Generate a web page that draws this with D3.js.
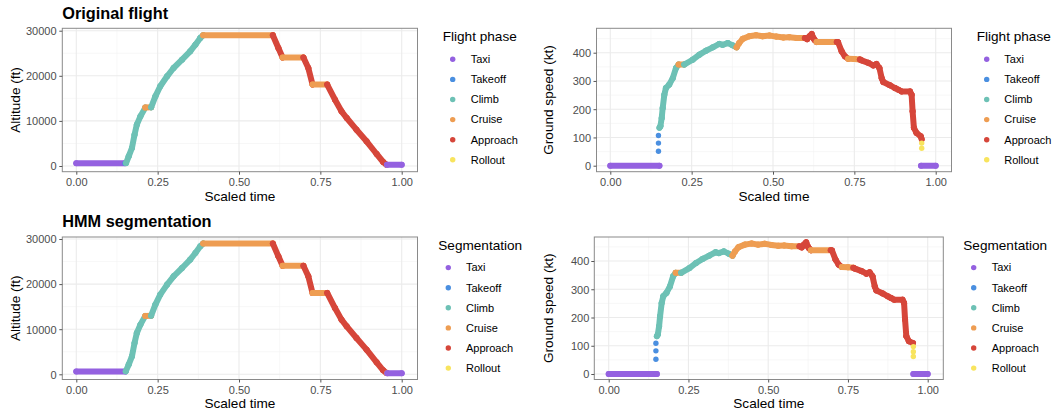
<!DOCTYPE html>
<html>
<head>
<meta charset="utf-8">
<script src="https://cdn.jsdelivr.net/npm/d3@7"></script>
<style>
  html, body { margin: 0; padding: 0; background: #fff; }
  svg { display: block; font-family: "Liberation Sans", Arial, Helvetica, sans-serif; }
</style>
</head>
<body>
<svg id="chart" width="1063" height="413"></svg>
<script>
// ---------------- DATA ----------------
const phases = ["Taxi", "Takeoff", "Climb", "Cruise", "Approach", "Rollout"];
const phaseColors = ["#9461E0", "#4A8FE0", "#6DC1B5", "#EE9D52", "#D6463A", "#F8E45E"];
const dotOnlyPhases = [1, 5];

const xTicks = [0, 0.25, 0.5, 0.75, 1];
const xTickLabels = ["0.00", "0.25", "0.50", "0.75", "1.00"];
const altTicks = [0, 10000, 20000, 30000];
const speedTicks = [0, 100, 200, 300, 400];

// [scaled time, altitude (ft), phase index] — original flight
const altitudeFlight = [
  [0.000, 600, 0], [0.150, 600, 0],
  [0.150, 600, 1], [0.151, 620, 1], [0.152, 650, 1],
  [0.153, 650, 2], [0.161, 2150, 2], [0.171, 3990, 2], [0.179, 6950, 2], [0.186, 9160, 2],
  [0.197, 11010, 2], [0.212, 12950, 2],
  [0.212, 12950, 3], [0.230, 13000, 3],
  [0.230, 13000, 2], [0.243, 15450, 2], [0.258, 17670, 2], [0.279, 19890, 2], [0.299, 21730, 2],
  [0.325, 23570, 2], [0.350, 25430, 2], [0.366, 26900, 2], [0.381, 28380, 2], [0.390, 29000, 2],
  [0.390, 29000, 3], [0.604, 29000, 3],
  [0.604, 29000, 4], [0.621, 26160, 4], [0.634, 24050, 4],
  [0.634, 24050, 3], [0.698, 24050, 3],
  [0.698, 24050, 4], [0.713, 21730, 4], [0.726, 18050, 4],
  [0.726, 18050, 3], [0.771, 18050, 3],
  [0.771, 18050, 4], [0.795, 14700, 4], [0.815, 12120, 4], [0.831, 10640, 4], [0.861, 8050, 4],
  [0.892, 5470, 4], [0.923, 2660, 4], [0.943, 890, 4], [0.953, 300, 4],
  [0.954, 260, 5], [0.955, 250, 5],
  [0.955, 250, 0], [1.000, 250, 0]
];

// HMM segmentation of altitude
const altitudeHMM = [
  [0.000, 600, 0], [0.151, 600, 0],
  [0.152, 650, 2], [0.161, 2150, 2], [0.171, 3990, 2], [0.179, 6950, 2], [0.186, 9160, 2],
  [0.197, 11010, 2], [0.212, 12950, 2],
  [0.212, 12950, 3], [0.230, 13000, 3],
  [0.230, 13000, 2], [0.243, 15450, 2], [0.258, 17670, 2], [0.279, 19890, 2], [0.299, 21730, 2],
  [0.325, 23570, 2], [0.350, 25430, 2], [0.366, 26900, 2], [0.381, 28380, 2], [0.390, 29000, 2],
  [0.390, 29000, 3], [0.604, 29000, 3],
  [0.604, 29000, 4], [0.621, 26160, 4], [0.634, 24050, 4],
  [0.634, 24050, 3], [0.698, 24050, 3],
  [0.698, 24050, 4], [0.713, 21730, 4], [0.726, 18050, 4],
  [0.726, 18050, 3], [0.771, 18050, 3],
  [0.771, 18050, 4], [0.795, 14700, 4], [0.815, 12120, 4], [0.831, 10640, 4], [0.861, 8050, 4],
  [0.892, 5470, 4], [0.923, 2660, 4], [0.943, 890, 4], [0.953, 300, 4],
  [0.955, 250, 3],
  [0.956, 250, 0], [1.000, 250, 0]
];

// [scaled time, ground speed (kt), phase index] — original flight
const speedFlight = [
  [0.000, 0, 0], [0.151, 0, 0],
  [0.148, 51, 1], [0.148, 80, 1], [0.148, 107, 1],
  [0.151, 134, 2], [0.154, 140, 2], [0.158, 169, 2], [0.161, 204, 2], [0.166, 251, 2], [0.171, 275, 2],
  [0.181, 287, 2], [0.192, 310, 2], [0.202, 346, 2], [0.210, 358, 2],
  [0.210, 358, 3], [0.227, 358, 3],
  [0.227, 358, 2], [0.253, 375, 2], [0.274, 393, 2], [0.294, 407, 2], [0.315, 419, 2],
  [0.335, 431, 2], [0.345, 428, 2], [0.361, 434, 2], [0.376, 426, 2], [0.388, 419, 2],
  [0.388, 419, 3], [0.396, 434, 3], [0.407, 449, 3], [0.427, 458, 3], [0.448, 462, 3],
  [0.468, 458, 3], [0.489, 461, 3], [0.510, 457, 3], [0.532, 454, 3], [0.550, 455, 3],
  [0.573, 452, 3], [0.598, 452, 3],
  [0.598, 452, 4], [0.605, 448, 4], [0.612, 458, 4], [0.619, 466, 4], [0.624, 452, 4],
  [0.628, 445, 4], [0.634, 438, 4],
  [0.634, 438, 3], [0.696, 438, 3],
  [0.696, 438, 4], [0.700, 437, 4], [0.711, 405, 4], [0.721, 387, 4], [0.731, 379, 4],
  [0.731, 379, 3], [0.750, 378, 3], [0.767, 376, 3],
  [0.767, 376, 4], [0.772, 373, 4], [0.793, 364, 4], [0.808, 355, 4], [0.818, 360, 4],
  [0.827, 346, 4], [0.834, 310, 4], [0.839, 296, 4], [0.859, 285, 4], [0.875, 275, 4],
  [0.885, 269, 4], [0.895, 263, 4], [0.921, 263, 4], [0.926, 251, 4], [0.929, 193, 4],
  [0.933, 134, 4], [0.941, 116, 4], [0.954, 104, 4], [0.957, 94, 4],
  [0.957, 80, 5], [0.957, 62, 5],
  [0.955, 0, 0], [1.000, 0, 0]
];

// HMM segmentation of ground speed
const speedHMM = [
  [0.000, 0, 0], [0.151, 0, 0],
  [0.148, 52, 1], [0.148, 82, 1], [0.148, 109, 1],
  [0.151, 134, 2], [0.154, 140, 2], [0.158, 169, 2], [0.161, 204, 2], [0.166, 251, 2], [0.171, 275, 2],
  [0.181, 287, 2], [0.192, 310, 2], [0.202, 346, 2], [0.210, 358, 2],
  [0.210, 358, 3], [0.227, 358, 3],
  [0.227, 358, 2], [0.253, 375, 2], [0.274, 393, 2], [0.294, 407, 2], [0.315, 419, 2],
  [0.335, 431, 2], [0.345, 428, 2], [0.361, 434, 2], [0.376, 426, 2], [0.388, 419, 2],
  [0.388, 419, 3], [0.396, 434, 3], [0.407, 449, 3], [0.427, 458, 3], [0.448, 462, 3],
  [0.468, 458, 3], [0.489, 461, 3], [0.510, 457, 3], [0.532, 454, 3], [0.550, 455, 3],
  [0.573, 452, 3], [0.598, 452, 3],
  [0.598, 452, 4], [0.605, 448, 4], [0.612, 458, 4], [0.619, 466, 4], [0.624, 452, 4],
  [0.628, 445, 4], [0.634, 438, 4],
  [0.634, 438, 3], [0.696, 438, 3],
  [0.696, 438, 4], [0.700, 437, 4], [0.711, 405, 4], [0.721, 387, 4], [0.731, 379, 4],
  [0.731, 379, 3], [0.750, 378, 3], [0.767, 376, 3],
  [0.767, 376, 4], [0.772, 373, 4], [0.793, 364, 4], [0.808, 355, 4], [0.818, 360, 4],
  [0.827, 346, 4], [0.834, 310, 4], [0.839, 296, 4], [0.859, 285, 4], [0.875, 275, 4],
  [0.885, 269, 4], [0.895, 263, 4], [0.921, 263, 4], [0.926, 251, 4], [0.929, 193, 4],
  [0.933, 134, 4], [0.941, 116, 4], [0.954, 110, 4],
  [0.955, 97, 5], [0.955, 79, 5], [0.955, 62, 5],
  [0.955, 0, 0], [1.000, 0, 0]
];

// ---------------- LAYOUT ----------------
const svg = d3.select("#chart");
const ROW = 208.3;

const panelSpecs = [
  { data: altitudeFlight, px: [62.3, 417.5], py: [28.3, 171.7], xr: [76.3, 401.7], yd: [0, 30000], yr: [166.0, 30.7],
    yTicks: altTicks, yMinor: [5000, 15000, 25000], yTitle: "Altitude (ft)", yTitleX: 19.5, yLabRight: 56.5,
    title: "Original flight", legendTitle: "Flight phase", leg: { tx: 442.7, dx: 452.7, lx: 470.7 }, row: 0 },
  { data: speedFlight, px: [596.5, 951.5], py: [28.3, 171.7], xr: [610.3, 935.7], yd: [0, 400], yr: [165.7, 52.7],
    yTicks: speedTicks, yMinor: [50, 150, 250, 350, 450], yTitle: "Ground speed (kt)", yTitleX: 553, yLabRight: 591,
    title: null, legendTitle: "Flight phase", leg: { tx: 976.7, dx: 986.7, lx: 1004.3 }, row: 0 },
  { data: altitudeHMM, px: [62.3, 417.5], py: [237.0, 379.5], xr: [76.3, 401.7], yd: [0, 30000], yr: [166.0 + ROW, 30.7 + ROW],
    yTicks: altTicks, yMinor: [5000, 15000, 25000], yTitle: "Altitude (ft)", yTitleX: 19.5, yLabRight: 56.5,
    title: "HMM segmentation", legendTitle: "Segmentation", leg: { tx: 438.3, dx: 448.3, lx: 466 }, row: 1 },
  { data: speedHMM, px: [594.3, 943.3], py: [237.0, 379.5], xr: [608.7, 927.7], yd: [0, 400], yr: [165.7 + ROW, 52.7 + ROW],
    yTicks: speedTicks, yMinor: [50, 150, 250, 350, 450], yTitle: "Ground speed (kt)", yTitleX: 553, yLabRight: 589.3,
    title: null, legendTitle: "Segmentation", leg: { tx: 963.3, dx: 973.7, lx: 991.7 }, row: 1 }
];

const xMinor = [0.125, 0.375, 0.625, 0.875];

panelSpecs.forEach((p, pi) => {
  const off = p.row * ROW;
  const x = d3.scaleLinear().domain([0, 1]).range(p.xr);
  const y = d3.scaleLinear().domain(p.yd).range(p.yr);
  const g = svg.append("g");

  const clipId = "clip" + pi;
  svg.append("clipPath").attr("id", clipId).append("rect")
    .attr("x", p.px[0]).attr("y", p.py[0])
    .attr("width", p.px[1] - p.px[0]).attr("height", p.py[1] - p.py[0]);

  g.append("rect").attr("x", p.px[0]).attr("y", p.py[0])
    .attr("width", p.px[1] - p.px[0]).attr("height", p.py[1] - p.py[0]).attr("fill", "#fff");

  const grid = g.append("g").attr("clip-path", `url(#${clipId})`);
  xMinor.forEach(v => grid.append("line").attr("x1", x(v)).attr("x2", x(v)).attr("y1", p.py[0]).attr("y2", p.py[1])
    .attr("stroke", "#F2F2F2").attr("stroke-width", 0.6));
  p.yMinor.forEach(v => grid.append("line").attr("y1", y(v)).attr("y2", y(v)).attr("x1", p.px[0]).attr("x2", p.px[1])
    .attr("stroke", "#F2F2F2").attr("stroke-width", 0.6));
  xTicks.forEach(v => grid.append("line").attr("x1", x(v)).attr("x2", x(v)).attr("y1", p.py[0]).attr("y2", p.py[1])
    .attr("stroke", "#EBEBEB").attr("stroke-width", 1.1));
  p.yTicks.forEach(v => grid.append("line").attr("y1", y(v)).attr("y2", y(v)).attr("x1", p.px[0]).attr("x2", p.px[1])
    .attr("stroke", "#EBEBEB").attr("stroke-width", 1.1));

  const marks = g.append("g").attr("clip-path", `url(#${clipId})`);
  const d = p.data;
  d.forEach((pt, i) => {
    const ph = pt[2];
    if (i > 0 && d[i - 1][2] === ph && !dotOnlyPhases.includes(ph)) {
      marks.append("line")
        .attr("x1", x(d[i - 1][0])).attr("y1", y(d[i - 1][1]))
        .attr("x2", x(pt[0])).attr("y2", y(pt[1]))
        .attr("stroke", phaseColors[ph]).attr("stroke-width", 6)
        .attr("stroke-linecap", "round");
    }
    marks.append("circle").attr("cx", x(pt[0])).attr("cy", y(pt[1]))
      .attr("r", dotOnlyPhases.includes(ph) ? 2.7 : 3).attr("fill", phaseColors[ph]);
  });

  g.append("rect").attr("x", p.px[0]).attr("y", p.py[0])
    .attr("width", p.px[1] - p.px[0]).attr("height", p.py[1] - p.py[0])
    .attr("fill", "none").attr("stroke", "#8A8A8A").attr("stroke-width", 1);

  const xAxis = d3.axisBottom(x).tickValues(xTicks).tickFormat((v, i) => xTickLabels[i]).tickSize(3).tickPadding(2);
  const xg = g.append("g").attr("transform", `translate(0,${p.py[1]})`).call(xAxis);
  xg.select(".domain").remove();
  xg.selectAll(".tick line").attr("stroke", "#555");
  xg.selectAll(".tick text").attr("fill", "#4D4D4D").attr("font-size", 11)
    .attr("font-family", "'Liberation Sans', Arial, sans-serif")
    .attr("dy", null).attr("y", 186 + off - p.py[1]);

  const yAxis = d3.axisLeft(y).tickValues(p.yTicks).tickSize(3).tickPadding(2).tickFormat(d3.format("d"));
  const yg = g.append("g").attr("transform", `translate(${p.px[0]},0)`).call(yAxis);
  yg.select(".domain").remove();
  yg.selectAll(".tick line").attr("stroke", "#555");
  yg.selectAll(".tick text").attr("fill", "#4D4D4D").attr("font-size", 11)
    .attr("font-family", "'Liberation Sans', Arial, sans-serif")
    .attr("x", p.yLabRight - p.px[0]).attr("dy", "0.35em");

  g.append("text").attr("x", (p.px[0] + p.px[1]) / 2)
    .attr("y", 200.5 + off - (p.row ? 0.5 : 0)).attr("text-anchor", "middle")
    .attr("font-size", 13.6).attr("fill", "#000").text("Scaled time");
  const cy = (p.py[0] + p.py[1]) / 2;
  g.append("text").attr("transform", `translate(${p.yTitleX},${cy}) rotate(-90)`)
    .attr("text-anchor", "middle").attr("font-size", 13.6).attr("fill", "#000").text(p.yTitle);

  if (p.title) {
    g.append("text").attr("x", 62.3).attr("y", 18.5 + off).attr("font-size", 16.3)
      .attr("font-weight", "bold").attr("fill", "#000").text(p.title);
  }

  const lg = g.append("g");
  lg.append("text").attr("x", p.leg.tx).attr("y", 41.2 + off).attr("font-size", 13.6).attr("fill", "#000")
    .text(p.legendTitle);
  phases.forEach((name, k) => {
    const yc = 59.3 + off + k * 20.1;
    lg.append("circle").attr("cx", p.leg.dx).attr("cy", yc).attr("r", 2.7).attr("fill", phaseColors[k]);
    lg.append("text").attr("x", p.leg.lx).attr("y", yc).attr("dy", "0.35em")
      .attr("font-size", 11).attr("fill", "#000").text(name);
  });
});
</script>
</body>
</html>
